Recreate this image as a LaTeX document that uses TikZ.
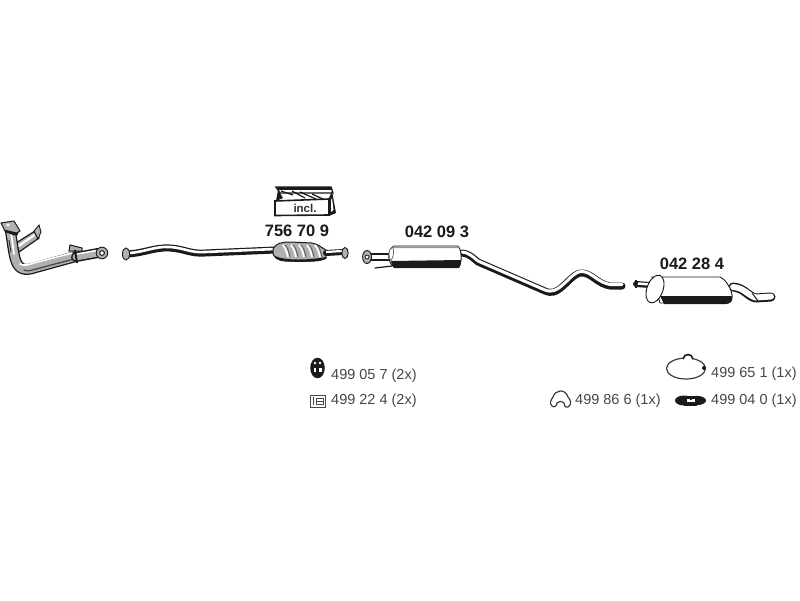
\documentclass[tikz,border=0pt]{standalone}
\usepackage{fontspec}
\setmainfont{Liberation Sans}
\definecolor{steel}{HTML}{B0B0B0}
\definecolor{dk}{HTML}{1A1A1A}
\tikzset{
  partno/.style={font=\fontsize{16.5}{18}\selectfont\bfseries,text=dk,inner sep=0pt},
  item/.style={font=\fontsize{14.5}{16}\selectfont,text=black!72,inner sep=0pt,anchor=west},
  body/.style={draw=dk,line width=0.9pt,fill=white},
  pipeo/.style={draw=dk,line width=#1,line cap=round,line join=round},
  pipei/.style={draw=#1,line cap=round,line join=round},
}
\newcommand{\pipe}[3]{% outer width, inner width, path
  \draw[pipeo=#1] #3;
  \draw[pipei=steel,line width=#2] #3;
}
\begin{document}
\begin{tikzpicture}[x=1pt,y=-1pt]
\useasboundingbox (0,0) rectangle (800,600);
\fill[white] (0,0) rectangle (800,600);
% front pipe
\draw[draw=dk,line width=1.2pt,fill=steel] (16,243) -- (35,231) -- (39,238) -- (19,252) -- cycle;
\fill[white] (18,245) -- (34,234) -- (35,236) -- (19,247) -- cycle;
\draw[steel!80!black,fill=steel,draw=dk,line width=.9pt] (34,231) -- (39,225) -- (41,232) -- (38,239) -- cycle;
\pipe{11pt}{8.4pt}{(10,228) .. controls (12,240) and (13,250) .. (15,258) .. controls (18,270) and (25,271) .. (34,268) -- (74,257)}
\draw[white,line width=1.8pt,line cap=round] (11,232) -- (14,254);
\draw[white,line width=1.6pt,line cap=round] (20,264) .. controls (24,266) and (28,265) .. (34,263) -- (72,253);
\draw[dk!80,line width=1.3pt,line cap=round] (24,270) .. controls (27,272) and (32,270) .. (38,268.5) -- (74,259);
\pipe{10pt}{7pt}{(76,257) -- (98,253)}
\draw[white,line width=1.4pt] (77,254) -- (97,250.5);
\draw[fill=steel,draw=dk,line width=1pt] (69,251) -- (70,245) -- (82,248) -- (82,251) -- cycle;
\draw[dk,line width=2pt] (75,250) -- (77,263);
\draw[body,fill=steel] (102,253) circle (5.8pt);
\draw[dk,line width=1pt,fill=white] (102,253) circle (2.4pt);
\draw[fill=steel,draw=dk,line width=1pt] (1,223) -- (7,222) -- (14,221) -- (20,231) -- (14,235) -- (5,231) -- cycle;
\draw[dk,line width=2.4pt] (5,231) -- (18,234);
\draw[white,fill=white] (8,225) circle (1.4pt);
\draw[dk,line width=.8pt] (9,240) -- (11,252);
% middle pipe
\draw[pipeo=7pt] (127,254) .. controls (145,253) and (155,247) .. (170,248) .. controls (185,249) and (190,254) .. (205,253) -- (275,250);
\draw[white,line cap=round,line width=2.6pt] (129,253) .. controls (145,252) and (155,246) .. (170,247) .. controls (185,248) and (190,253) .. (205,252) -- (275,249);
\draw[body,fill=steel] (126,254) ellipse (3.6pt and 6pt);
\draw[draw=dk,line width=1pt,fill=steel] (273,249) .. controls (276,243) and (282,242) .. (290,242) -- (312,243) .. controls (318,244) and (322,248) .. (326,250) -- (326,258) .. controls (320,262) and (310,261) .. (300,261) -- (285,261) .. controls (279,261) and (275,258) .. (273,254) -- cycle;
\fill[dk] (275,256) .. controls (285,261) and (310,260) .. (326,257) -- (326,259) .. controls (310,263) and (285,263) .. (275,258) -- cycle;
\foreach \cx in {283,291,299,307,315}{
  \draw[white,line width=2pt] (\cx,245) .. controls (\cx+3,248) and (\cx+4,253) .. (\cx+5,257);
  \draw[dk!70,line width=1pt] (\cx+2,245) .. controls (\cx+5,248) and (\cx+6,253) .. (\cx+7,257);
}
\draw[pipeo=6pt] (326,253) -- (343,252);
\draw[white,line width=2.2pt] (326,252) -- (342,251);
\draw[body,fill=steel] (345,253) ellipse (3.2pt and 5.5pt);
% kit box
\draw[fill=white,draw=dk,line width=1.4pt] (276,187) -- (331,187) -- (333,193) -- (280,193) -- cycle;
\fill[dk] (278,187) -- (331,187) -- (331,189.5) -- (278,189.5) -- cycle;
\draw[dk,line width=1.2pt] (281,191) -- (293,195) (292,191) -- (305,198) (300,192) -- (316,199) (312,194) -- (325,200);
\fill[dk] (278,190) -- (283,198) -- (276,201) -- cycle;
\draw[fill=white,draw=dk,line width=1.6pt] (275,201) -- (329,199) -- (329,215) -- (275,215.5) -- cycle;
\fill[dk] (329,198) -- (332,191) -- (336,213) -- (329,216) -- cycle;
\fill[white] (331,200) -- (332,198) -- (333.5,210) -- (331,212) -- cycle;
\node[font=\fontsize{11.5}{12}\selectfont\bfseries,text=dk!90,inner sep=0pt] (incl) at (305,208.5) {incl.};
\node[partno] (p1) at (297,231) {756 70 9};
% centre section
\draw[pipeo=7pt] (462,253) .. controls (470,254) and (473,258) .. (478,262) -- (545,291) .. controls (552,294) and (556,292) .. (562,287) .. controls (570,280) and (576,272) .. (583,273) .. controls (592,274) and (598,284) .. (610,286) -- (622,286);
\draw[white,line cap=round,line width=3pt] (462,252) .. controls (470,253) and (473,257) .. (478,261) -- (545,290) .. controls (552,292.5) and (556,290.5) .. (562,285.5) .. controls (570,278.5) and (576,270.5) .. (583,271.5) .. controls (592,272.5) and (598,282.5) .. (610,284.5) -- (622,284.5);
\draw[dk,line width=1.2pt,line cap=round] (375,268) -- (392,266);
\draw[pipeo=8pt] (368,257) -- (391,257);
\draw[white,line width=4.5pt] (372,257) -- (391,257);
\draw[body,fill=steel] (367,257) ellipse (4.4pt and 6.5pt);
\draw[dk,fill=white,line width=.8pt] (367,257) circle (2pt);
\draw[body] (394,246) -- (458,246) .. controls (462,250) and (462,263) .. (459,267) -- (394,267) .. controls (387,262) and (387,250) .. (394,246) -- cycle;
\fill[dk!45] (394,246) -- (458,246) -- (459,248) -- (393,248) -- cycle;
\fill[dk] (391,261) -- (461,260) .. controls (461,264) and (460,266) .. (459,268) -- (394,268) .. controls (392,266) and (391,263) .. (391,261) -- cycle;
\draw[dk!70,line width=.7pt,fill=white] (391,261) .. controls (394,255) and (394,252) .. (393,247) .. controls (388,249) and (388,257) .. (391,261) -- cycle;
\node[partno] (p2) at (437,232) {042 09 3};
% rear muffler
\draw[pipeo=6pt] (636,284) -- (650,285);
\draw[white,line width=2.5pt] (638,283.5) -- (650,284.5);
\draw[dk,line width=2.5pt] (636,280) -- (636,288);
\draw[pipeo=9pt] (733,287) .. controls (745,288) and (748,297) .. (756,298) -- (771,297);
\draw[white,line cap=round,line width=6pt] (733,287) .. controls (745,288) and (748,296) .. (756,297.5) -- (771,296.5);
\draw[dk,line width=1pt] (752,293) -- (758,301);
\draw[body] (652,277) -- (720,277) .. controls (727,280) and (733,292) .. (732,298) .. controls (732,302) and (729,303) .. (726,303) -- (660,303) -- cycle;
\fill[dk] (660,296) -- (732,296) .. controls (733,301) and (730,304) .. (726,304) -- (664,304) -- cycle;
\draw[body,rotate around={-20:(655,289)}] (655,289) ellipse (8pt and 14.5pt);
\node[partno] (p3) at (692,264) {042 28 4};
% small parts
\draw[dk,line width=1.5pt,fill=dk] (317.5,368) ellipse (6.5pt and 9.5pt);
\fill[white] (315,363) circle (1.3pt) (320,363) circle (1.3pt);
\fill[white] (313.5,368) rectangle (321.5,372);
\fill[dk] (316.2,368) rectangle (318.8,372);
\node[item] (i1) at (331,376) {499 05 7 (2x)};
\draw[dk!80,line width=1pt] (310,395) rectangle (325,407);
\draw[dk!80,line width=1pt] (313,397) -- (313,405) (316,398) rectangle (323,404) (316,401) -- (323,401);
\node[item] (i2) at (331,401) {499 22 4 (2x)};
% clamp ring
\draw[dk!85,line width=1.2pt] (686,368.5) ellipse (19.5pt and 10.5pt);
\draw[dk,line width=1.6pt,fill=white] (683,359) .. controls (684,353) and (692,353) .. (693,359);
\fill[dk] (704,368) circle (2pt);
\node[item] (i3) at (711,374) {499 65 1 (1x)};
% clamp
\draw[dk!85,line width=1.2pt] (552,406) .. controls (549,403) and (551,400) .. (553,397) .. controls (555,390) and (565,388) .. (568,397) .. controls (571,400) and (572,405) .. (568,407) .. controls (565,408) and (564,405) .. (564,403) .. controls (561,401) and (559,401) .. (557,403) .. controls (557,406) and (554,408) .. (552,406) -- cycle;
\node[item] (i4) at (575,401) {499 86 6 (1x)};
% gasket
\fill[dk] (684,400.5) ellipse (9pt and 5pt);
\fill[dk] (697,400.5) ellipse (9pt and 4.6pt);
\fill[dk] (684,395.5) rectangle (697,405.5);
\fill[white] (687,398.5) rectangle (695,402) ;
\fill[dk] (690,398.5) rectangle (692,400);
\node[item] (i5) at (711,401) {499 04 0 (1x)};
\end{tikzpicture}
\end{document}
